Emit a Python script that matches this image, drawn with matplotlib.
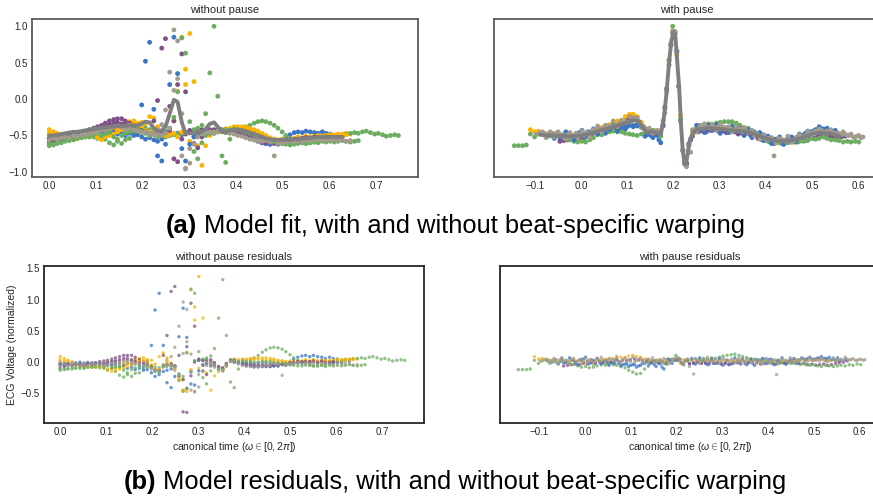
import numpy as np
import matplotlib
matplotlib.use("Agg")
import matplotlib.pyplot as plt

# ---------------- data: without pause (common canonical-time grid) ----------------
t_np = [0.000, 0.009, 0.017, 0.026, 0.034, 0.043, 0.052, 0.060, 0.069, 0.077,
        0.086, 0.095, 0.103, 0.112, 0.120, 0.129, 0.138, 0.146, 0.155, 0.163,
        0.172, 0.181, 0.189, 0.198, 0.206, 0.215, 0.224, 0.232, 0.241, 0.249,
        0.258, 0.267, 0.275, 0.284, 0.292, 0.301, 0.310, 0.318, 0.327, 0.335,
        0.344, 0.353, 0.361, 0.370, 0.378, 0.387, 0.396, 0.404, 0.413, 0.421,
        0.430, 0.439, 0.447, 0.456, 0.464, 0.473, 0.482, 0.490, 0.499, 0.507,
        0.516, 0.525, 0.533, 0.542, 0.550, 0.559, 0.568, 0.576, 0.585, 0.593,
        0.602, 0.611, 0.619, 0.628, 0.636, 0.645, 0.654, 0.662, 0.671, 0.679,
        0.688, 0.697, 0.705, 0.714, 0.722, 0.731, 0.740, 0.748]

fit_np = [-0.50, -0.50, -0.49, -0.48, -0.47, -0.46, -0.45, -0.45, -0.44, -0.43,
          -0.42, -0.41, -0.40, -0.40, -0.39, -0.38, -0.38, -0.37, -0.37, -0.37,
          -0.36, -0.36, -0.36, -0.34, -0.31, -0.32, -0.40, -0.44, -0.43, -0.38,
          -0.20, -0.01, -0.04, -0.32, -0.47, -0.47, -0.46, -0.46, -0.45, -0.41,
          -0.34, -0.32, -0.38, -0.45, -0.45, -0.43, -0.42, -0.42, -0.43, -0.44,
          -0.46, -0.48, -0.50, -0.52, -0.54, -0.55, -0.56, -0.56, -0.56, -0.56,
          -0.56, -0.55, -0.55, -0.54, -0.54, -0.53, -0.53, -0.52, -0.52, -0.52,
          -0.52, -0.52, -0.52, -0.52, -0.52, -0.52, -0.52, -0.52, -0.52, -0.52,
          -0.52, -0.52, -0.52, -0.52, -0.52, -0.52, -0.52, -0.52]
fit_np_end = 0.63

np_blue_a = [-0.53, -0.55, -0.52, -0.50, -0.49, -0.47, -0.48, -0.47, -0.46, -0.45,
             -0.44, -0.45, -0.43, -0.44, -0.42, -0.41, -0.43, -0.40, -0.41, -0.40,
             -0.42, -0.45, -0.35, -0.08, 0.52, 0.78, -0.14, -0.78, -0.85, -0.62,
             -0.50, -0.48, -0.47, -0.49, -0.46, -0.45, -0.44, -0.46, -0.44, -0.43,
             -0.44, -0.45, -0.43, -0.44, -0.42, -0.43, -0.41, -0.43, -0.45, -0.47,
             -0.48, -0.50, -0.52, -0.55, -0.57, -0.58, -0.60, -0.59, -0.57, -0.52,
             -0.49, -0.46, -0.45, -0.46, -0.44, -0.45, -0.46, -0.47, -0.45, -0.47,
             -0.48, -0.50, -0.49, -0.51]
np_blue_b = [-0.55, -0.53, -0.54, -0.52, -0.51, -0.50, -0.50, -0.48, -0.49, -0.47,
             -0.46, -0.47, -0.45, -0.46, -0.44, -0.47, -0.45, -0.48, -0.46, -0.50,
             -0.47, -0.50, -0.49, -0.52, -0.55, -0.53, -0.56, -0.58, -0.55, -0.45,
             0.20, 0.85, 0.35, -0.68, -0.85, -0.62, -0.52, -0.50, -0.48, -0.47,
             -0.46, -0.47, -0.45, -0.44, -0.46, -0.45, -0.47, -0.48, -0.50, -0.52,
             -0.54, -0.55, -0.57, -0.60, -0.61, -0.62, -0.60, -0.62, -0.61, -0.60,
             -0.58, -0.57, -0.56, -0.55, -0.54, -0.55, -0.53, -0.54, -0.52, -0.53,
             -0.52, -0.54]
np_yellow_a = [-0.42, -0.45, -0.47, -0.49, -0.52, -0.51, -0.53, -0.52, -0.53, -0.52,
               -0.50, -0.49, -0.52, -0.50, -0.48, -0.45, -0.42, -0.40, -0.36, -0.33,
               -0.31, -0.30, -0.33, -0.32, -0.35, -0.24, -0.26, -0.38, -0.45, -0.48,
               -0.46, -0.30, 0.11, 0.85, 0.41, -0.58, -0.52, -0.48, -0.46, -0.44,
               -0.43, -0.44, -0.42, -0.43, -0.41, -0.40, -0.38, -0.39, -0.40, -0.41,
               -0.42, -0.45, -0.48, -0.50, -0.52, -0.54, -0.55, -0.56, -0.55, -0.56,
               -0.55, -0.54, -0.52, -0.53, -0.51, -0.52, -0.51, -0.50, -0.51, -0.50,
               -0.49, -0.50, -0.48, -0.49, -0.47, -0.48]
np_yellow_b = [-0.47, -0.49, -0.48, -0.50, -0.52, -0.53, -0.51, -0.54, -0.52, -0.50,
               -0.51, -0.49, -0.53, -0.56, -0.52, -0.50, -0.48, -0.45, -0.42, -0.38,
               -0.36, -0.34, -0.38, -0.40, -0.43, -0.45, -0.47, -0.44, -0.48, -0.50,
               -0.49, -0.47, -0.52, -0.45, 0.20, 0.90, 0.24, -0.64, -0.91, -0.64,
               -0.50, -0.46, -0.45, -0.44, -0.42, -0.41, -0.39, -0.38, -0.38, -0.39,
               -0.40, -0.42, -0.44, -0.47, -0.50, -0.53, -0.55, -0.57, -0.58, -0.57,
               -0.56, -0.55, -0.54, -0.55, -0.53, -0.52, -0.53, -0.52, -0.51, -0.50,
               -0.50, -0.49, -0.50, -0.48, -0.49]
np_purple_a = [-0.60, -0.58, -0.55, -0.54, -0.52, -0.50, -0.50, -0.48, -0.47, -0.45,
               -0.42, -0.40, -0.38, -0.36, -0.33, -0.30, -0.28, -0.27, -0.27, -0.30,
               -0.33, -0.36, -0.38, -0.40, -0.44, -0.46, -0.30, -0.02, 0.70, 0.83,
               -0.10, -0.82, -0.86, -0.55, -0.48, -0.45, -0.44, -0.43, -0.42, -0.43,
               -0.42, -0.44, -0.45, -0.44, -0.46, -0.45, -0.47, -0.48, -0.50, -0.52,
               -0.54, -0.56, -0.58, -0.60, -0.61, -0.62, -0.60, -0.61, -0.59, -0.58,
               -0.57, -0.56, -0.55, -0.56, -0.54, -0.55, -0.53, -0.54, -0.52, -0.53,
               -0.52]
np_purple_b = [-0.55, -0.56, -0.53, -0.54, -0.52, -0.53, -0.51, -0.50, -0.49, -0.47,
               -0.46, -0.44, -0.42, -0.40, -0.38, -0.35, -0.33, -0.32, -0.34, -0.36,
               -0.38, -0.40, -0.41, -0.43, -0.45, -0.47, -0.48, -0.50, -0.47, -0.45,
               -0.43, -0.30, 0.20, 0.62, 0.10, -0.43, -0.61, -0.67, -0.52, -0.46,
               -0.43, -0.42, -0.41, -0.42, -0.43, -0.44, -0.45, -0.46, -0.48, -0.50,
               -0.52, -0.55, -0.57, -0.58, -0.60, -0.59, -0.61, -0.60, -0.58, -0.57,
               -0.56, -0.55, -0.55, -0.54, -0.53, -0.54, -0.52, -0.53, -0.54, -0.52]
np_green_a = [-0.62, -0.62, -0.60, -0.58, -0.57, -0.55, -0.56, -0.54, -0.53, -0.52,
              -0.50, -0.52, -0.54, -0.51, -0.55, -0.60, -0.63, -0.58, -0.61, -0.56,
              -0.54, -0.48, -0.45, -0.42, -0.40, -0.42, -0.46, -0.48, -0.50, -0.52,
              -0.50, -0.49, -0.48, -0.47, -0.46, -0.44, -0.42, -0.40, -0.36, -0.20,
              0.36, 1.00, 0.04, -0.78, -0.87, -0.55, -0.45, -0.42, -0.40, -0.38,
              -0.36, -0.33, -0.31, -0.30, -0.31, -0.33, -0.36, -0.40, -0.45, -0.50,
              -0.54, -0.56, -0.58, -0.60, -0.61, -0.60, -0.59, -0.58, -0.56, -0.55,
              -0.53, -0.52, -0.50, -0.49, -0.48, -0.47, -0.46, -0.47, -0.45, -0.44,
              -0.46, -0.48, -0.47, -0.49, -0.51, -0.50, -0.49, -0.50]
np_green_b = [-0.64, -0.63, -0.61, -0.60, -0.58, -0.57, -0.55, -0.54, -0.53, -0.50,
              -0.52, -0.49, -0.47, -0.50, -0.48, -0.46, -0.52, -0.55, -0.50, -0.47,
              -0.45, -0.43, -0.41, -0.44, -0.47, -0.50, -0.48, -0.52, -0.50, -0.46,
              -0.40, -0.25, 0.10, 0.84, 0.63, -0.31, -0.72, -0.82, -0.60, -0.50,
              -0.47, -0.45, -0.44, -0.43, -0.42, -0.43, -0.41, -0.42, -0.43, -0.45,
              -0.47, -0.48, -0.50, -0.52, -0.55, -0.57, -0.59, -0.60, -0.61, -0.62,
              -0.63, -0.62, -0.61, -0.60, -0.61, -0.60, -0.59, -0.60, -0.58, -0.59,
              -0.58, -0.59, -0.58, -0.57, -0.58, -0.59, -0.58, -0.57]
np_grey_a = [-0.50, -0.52, -0.51, -0.49, -0.50, -0.48, -0.47, -0.46, -0.47, -0.45,
             -0.44, -0.42, -0.41, -0.40, -0.38, -0.37, -0.36, -0.35, -0.36, -0.37,
             -0.38, -0.40, -0.42, -0.44, -0.46, -0.48, -0.45, -0.42, -0.35, -0.15,
             0.37, 0.95, 0.28, -0.78, -0.96, -0.68, -0.50, -0.47, -0.46, -0.45,
             -0.44, -0.43, -0.42, -0.43, -0.44, -0.45, -0.44, -0.46, -0.47, -0.49,
             -0.51, -0.53, -0.55, -0.57, -0.58, -0.60, -0.59, -0.60, -0.58, -0.57,
             -0.58, -0.57, -0.56, -0.57, -0.55, -0.56, -0.55, -0.54, -0.55, -0.54,
             -0.53, -0.54, -0.53, -0.52]
np_grey_b = [-0.56, -0.54, -0.55, -0.53, -0.52, -0.53, -0.50, -0.51, -0.49, -0.48,
             -0.47, -0.46, -0.45, -0.43, -0.42, -0.40, -0.38, -0.37, -0.39, -0.41,
             -0.40, -0.42, -0.44, -0.46, -0.45, -0.47, -0.49, -0.48, -0.50, -0.47,
             -0.40, 0.12, 0.80, -0.20, -0.95, -0.88, -0.62, -0.52, -0.48, -0.46,
             -0.45, -0.46, -0.44, -0.45, -0.46, -0.47, -0.48, -0.50, -0.51, -0.53,
             -0.55, -0.56, -0.57, -0.58, -0.57, -0.59, -0.78, -0.61, -0.60, -0.59,
             -0.58, -0.59, -0.57, -0.58, -0.56, -0.57, -0.56, -0.55, -0.56, -0.57,
             -0.56, -0.55, -0.57, -0.56, -0.58, -0.57]

# ---------------- data: with pause (warped beats on two sample grids) ----------------
wp_grid_a = [-0.150, -0.141, -0.133, -0.124, -0.115, -0.107, -0.098, -0.090, -0.081, -0.073,
             -0.064, -0.055, -0.047, -0.038, -0.030, -0.021, -0.012, -0.004, 0.005, 0.013,
             0.022, 0.031, 0.039, 0.048, 0.056, 0.065, 0.074, 0.082, 0.091, 0.099,
             0.108, 0.117, 0.125, 0.134, 0.142, 0.151, 0.160, 0.168, 0.177, 0.185,
             0.194, 0.203, 0.211, 0.220, 0.228, 0.237, 0.246, 0.254, 0.263, 0.271,
             0.280, 0.289, 0.297, 0.306, 0.314, 0.323, 0.332, 0.340, 0.349, 0.357,
             0.366, 0.375, 0.383, 0.392, 0.400, 0.409, 0.418, 0.426, 0.435, 0.443,
             0.452, 0.461, 0.469, 0.478, 0.486, 0.495, 0.504, 0.512, 0.521, 0.529,
             0.538, 0.547, 0.555, 0.564, 0.572, 0.581, 0.590, 0.598, 0.607]
wp_grid_b = [-0.146, -0.137, -0.128, -0.120, -0.111, -0.102, -0.094, -0.085, -0.077, -0.068,
             -0.059, -0.051, -0.042, -0.034, -0.025, -0.016, -0.008, 0.001, 0.009, 0.018,
             0.026, 0.035, 0.044, 0.052, 0.061, 0.069, 0.078, 0.087, 0.095, 0.104,
             0.112, 0.121, 0.130, 0.138, 0.147, 0.155, 0.164, 0.172, 0.181, 0.190,
             0.198, 0.207, 0.215, 0.224, 0.233, 0.241, 0.250, 0.258, 0.267, 0.276,
             0.284, 0.293, 0.301, 0.310, 0.319, 0.327, 0.336, 0.344, 0.353, 0.362,
             0.370, 0.379, 0.387, 0.396, 0.405, 0.413, 0.422, 0.430, 0.439, 0.448,
             0.456, 0.465, 0.473, 0.482, 0.491, 0.499, 0.508, 0.516, 0.525, 0.533,
             0.542, 0.551, 0.559, 0.568, 0.577, 0.585, 0.594, 0.602, 0.611]

fit_wp_x = [-0.09, -0.06, -0.03, 0.0, 0.02, 0.04, 0.06, 0.08, 0.10,
            0.112, 0.122, 0.132, 0.142, 0.152, 0.162, 0.172,
            0.178, 0.184, 0.19, 0.195, 0.2, 0.204, 0.208, 0.212, 0.216, 0.22, 0.224, 0.228, 0.232, 0.236,
            0.242, 0.25, 0.26, 0.28, 0.30, 0.33, 0.36, 0.38, 0.40, 0.42, 0.44, 0.46, 0.48, 0.50, 0.52, 0.54, 0.56]
fit_wp_y = [-0.49, -0.50, -0.51, -0.50, -0.47, -0.43, -0.40, -0.36, -0.32,
            -0.29, -0.30, -0.38, -0.46, -0.45, -0.46, -0.48,
            -0.30, 0.05, 0.50, 0.80, 0.92, 0.85, 0.50, 0.15, -0.35, -0.72, -0.90, -0.85, -0.68, -0.55,
            -0.46, -0.42, -0.41, -0.40, -0.41, -0.43, -0.45, -0.49, -0.54, -0.57, -0.58, -0.56, -0.53, -0.48, -0.46, -0.47, -0.51]

wp_blue_start = 8
wp_blue_y = [-0.47, -0.51, -0.47, -0.50, -0.53, -0.50, -0.48, -0.52, -0.48, -0.46,
             -0.48, -0.45, -0.48, -0.43, -0.43, -0.45, -0.43, -0.43, -0.40, -0.41,
             -0.38, -0.38, -0.35, -0.36, -0.36, -0.38, -0.49, -0.50, -0.48, -0.56,
             -0.37, 0.15, 0.74, 0.92, 0.17, -0.70, -0.89, -0.56, -0.43, -0.44,
             -0.44, -0.42, -0.40, -0.42, -0.43, -0.43, -0.45, -0.43, -0.41, -0.43,
             -0.44, -0.47, -0.45, -0.45, -0.48, -0.49, -0.51, -0.54, -0.56, -0.58,
             -0.60, -0.58, -0.56, -0.54, -0.52, -0.50, -0.47, -0.47, -0.44, -0.42,
             -0.41, -0.42, -0.44, -0.46, -0.49]
wp_blue_r = [0.02, -0.01, 0.03, 0.00, -0.02, 0.01, 0.03, -0.01, 0.02, 0.04,
             0.01, 0.03, -0.02, 0.02, 0.00, -0.03, -0.02, -0.04, -0.03, -0.05,
             -0.04, -0.06, -0.05, -0.07, -0.03, 0.02, -0.03, -0.05, -0.02, -0.09,
             -0.04, 0.03, 0.02, 0.05, -0.03, 0.02, -0.04, -0.03, 0.01, -0.02,
             -0.03, -0.01, 0.00, -0.02, -0.03, -0.02, -0.04, -0.01, 0.02, 0.01,
             0.00, -0.02, 0.01, 0.03, 0.02, 0.04, 0.03, 0.02, 0.01, -0.01,
             -0.02, 0.00, 0.01, 0.02, 0.03, 0.04, 0.05, 0.03, 0.04, 0.05,
             0.05, 0.04, 0.03, 0.02, 0.01]

wp_blue2_start = 10
wp_blue2_y = [-0.54, -0.46, -0.53, -0.45, -0.50, -0.56, -0.47, -0.43, -0.52, -0.45,
              -0.41, -0.48, -0.42, -0.47, -0.42, -0.35, -0.44, -0.39, -0.41, -0.36,
              -0.38, -0.37, -0.39, -0.51, -0.48, -0.53, -0.50, -0.60, -0.11, 0.47,
              0.90, 0.66, -0.30, -0.87, -0.61, -0.51, -0.36, -0.39, -0.46, -0.36,
              -0.43, -0.35, -0.47, -0.39, -0.46, -0.37, -0.45, -0.40, -0.50, -0.42,
              -0.53, -0.47, -0.46, -0.57, -0.51, -0.61, -0.55, -0.52, -0.62, -0.54,
              -0.52, -0.58, -0.48, -0.50, -0.44, -0.45, -0.42, -0.38, -0.41, -0.40,
              -0.44, -0.43, -0.49, -0.49]
wp_blue2_r = [-0.04, 0.05, -0.02, 0.06, 0.01, -0.05, 0.03, 0.07, -0.03, 0.02,
              0.05, -0.04, 0.01, -0.06, -0.02, 0.03, -0.07, -0.04, -0.08, -0.05,
              -0.09, -0.06, -0.03, -0.07, -0.02, -0.08, -0.04, -0.12, 0.04, -0.03,
              0.02, 0.04, -0.05, 0.03, 0.05, -0.04, 0.06, 0.02, -0.05, 0.04,
              -0.03, 0.05, -0.06, 0.02, -0.04, 0.06, -0.02, 0.04, -0.05, 0.03,
              -0.06, 0.02, 0.05, -0.03, 0.04, -0.05, 0.02, 0.06, -0.04, 0.03,
              0.05, -0.02, 0.06, 0.03, 0.07, 0.04, 0.06, 0.08, 0.05, 0.07,
              0.04, 0.06, 0.02, 0.03]

wp_yellow_start = 4
wp_yellow_y = [-0.42, -0.45, -0.44, -0.46, -0.48, -0.46, -0.49, -0.48, -0.49, -0.51,
               -0.48, -0.50, -0.48, -0.51, -0.47, -0.47, -0.43, -0.42, -0.39, -0.38,
               -0.35, -0.32, -0.30, -0.29, -0.24, -0.21, -0.21, -0.24, -0.32, -0.41,
               -0.45, -0.43, -0.43, -0.48, -0.11, 0.52, 0.93, 0.60, -0.22, -0.89,
               -0.64, -0.48, -0.40, -0.41, -0.40, -0.38, -0.37, -0.39, -0.39, -0.41,
               -0.43, -0.41, -0.40, -0.43, -0.41, -0.43, -0.44, -0.48, -0.49, -0.54,
               -0.54, -0.57, -0.55, -0.58, -0.57, -0.55, -0.54, -0.54, -0.50, -0.51,
               -0.48, -0.47, -0.44, -0.43, -0.44, -0.46, -0.45]
wp_yellow_r = [0.08, 0.04, 0.05, 0.03, 0.02, 0.04, 0.01, 0.03, 0.02, 0.00,
               0.03, 0.01, 0.02, -0.01, 0.02, 0.00, 0.03, 0.02, 0.04, 0.03,
               0.05, 0.06, 0.07, 0.06, 0.09, 0.10, 0.08, 0.07, 0.04, 0.03,
               0.01, 0.02, 0.03, 0.00, 0.04, 0.02, 0.05, -0.02, 0.03, 0.01,
               0.02, -0.01, 0.02, 0.00, 0.01, 0.02, 0.03, 0.01, 0.02, 0.00,
               -0.01, 0.02, 0.03, 0.01, 0.04, 0.02, 0.03, 0.01, 0.02, 0.00,
               0.01, -0.01, 0.02, 0.00, 0.01, 0.02, 0.03, 0.02, 0.04, 0.02,
               0.03, 0.02, 0.04, 0.03, 0.02, 0.01, 0.03]

wp_purple_start = 12
wp_purple_y = [-0.58, -0.57, -0.56, -0.55, -0.55, -0.53, -0.53, -0.50, -0.49, -0.46,
               -0.45, -0.42, -0.42, -0.38, -0.37, -0.34, -0.33, -0.29, -0.26, -0.26,
               -0.31, -0.40, -0.47, -0.44, -0.48, -0.47, -0.35, 0.13, 0.75, 0.89,
               0.18, -0.71, -0.88, -0.55, -0.45, -0.45, -0.43, -0.45, -0.43, -0.42,
               -0.44, -0.44, -0.46, -0.45, -0.45, -0.48, -0.47, -0.46, -0.49, -0.50,
               -0.54, -0.56, -0.56, -0.59, -0.61, -0.59, -0.61, -0.59, -0.59, -0.59,
               -0.59, -0.57, -0.57, -0.54, -0.54, -0.52, -0.50, -0.52, -0.52, -0.51,
               -0.52, -0.52, -0.51]
wp_purple_r = [-0.07, -0.06, -0.05, -0.04, -0.05, -0.03, -0.04, -0.02, -0.03, -0.01,
               -0.02, 0.00, -0.01, 0.01, 0.00, 0.02, 0.01, 0.03, 0.04, 0.03,
               0.02, 0.00, -0.01, 0.01, -0.02, 0.00, -0.02, 0.01, 0.03, 0.02,
               -0.02, 0.01, -0.03, -0.02, -0.01, -0.03, -0.02, -0.04, -0.03, -0.02,
               -0.04, -0.03, -0.05, -0.03, -0.02, -0.04, -0.03, -0.01, -0.03, -0.02,
               -0.04, -0.03, -0.02, -0.03, -0.04, -0.02, -0.03, -0.01, -0.02, -0.03,
               -0.04, -0.03, -0.05, -0.04, -0.06, -0.05, -0.04, -0.06, -0.05, -0.03,
               -0.02, -0.01, 0.01]

wp_green_start = 0
wp_green_y = [-0.64, -0.64, -0.64, -0.63, -0.48, -0.52, -0.48, -0.47, -0.51, -0.50,
              -0.52, -0.50, -0.52, -0.54, -0.56, -0.58, -0.59, -0.58, -0.59, -0.56,
              -0.53, -0.49, -0.49, -0.45, -0.45, -0.44, -0.45, -0.45, -0.47, -0.48,
              -0.49, -0.50, -0.48, -0.46, -0.45, -0.43, -0.46, -0.51, -0.13, 0.54,
              1.00, 0.65, -0.27, -0.89, -0.63, -0.43, -0.39, -0.36, -0.37, -0.34,
              -0.35, -0.33, -0.32, -0.31, -0.31, -0.31, -0.33, -0.36, -0.39, -0.40,
              -0.44, -0.47, -0.51, -0.55, -0.58, -0.60, -0.60, -0.60, -0.62, -0.60,
              -0.59, -0.59, -0.58, -0.58, -0.57, -0.54, -0.55, -0.54, -0.52, -0.54,
              -0.56, -0.56, -0.57, -0.59, -0.58, -0.59, -0.58, -0.59]
wp_green_r = [-0.13, -0.13, -0.13, -0.12, 0.02, -0.03, 0.01, 0.02, -0.01, 0.00,
              -0.02, 0.01, -0.01, -0.03, -0.05, -0.07, -0.09, -0.08, -0.10, -0.09,
              -0.07, -0.05, -0.06, -0.04, -0.05, -0.06, -0.08, -0.10, -0.14, -0.17,
              -0.20, -0.19, -0.12, -0.02, 0.01, 0.02, 0.00, -0.03, 0.02, 0.04,
              0.10, 0.03, -0.02, 0.01, 0.03, 0.04, 0.03, 0.05, 0.04, 0.06,
              0.05, 0.07, 0.09, 0.10, 0.11, 0.12, 0.10, 0.08, 0.06, 0.05,
              0.03, 0.02, 0.00, -0.01, -0.03, -0.04, -0.03, -0.02, -0.04, -0.03,
              -0.02, -0.03, -0.04, -0.05, -0.06, -0.05, -0.07, -0.08, -0.06, -0.07,
              -0.08, -0.07, -0.06, -0.07, -0.05, -0.06, -0.04, -0.05]

wp_grey_start = 6
wp_grey_y = [-0.48, -0.46, -0.49, -0.48, -0.51, -0.47, -0.50, -0.53, -0.49, -0.51,
             -0.47, -0.49, -0.50, -0.46, -0.46, -0.44, -0.40, -0.40, -0.37, -0.37,
             -0.36, -0.33, -0.32, -0.32, -0.31, -0.27, -0.32, -0.37, -0.44, -0.46,
             -0.44, -0.46, -0.30, 0.10, 0.76, 0.93, 0.17, -0.70, -0.93, -0.73,
             -0.42, -0.41, -0.38, -0.39, -0.40, -0.39, -0.38, -0.38, -0.40, -0.40,
             -0.43, -0.43, -0.45, -0.43, -0.46, -0.50, -0.49, -0.53, -0.55, -0.54,
             -0.78, -0.56, -0.56, -0.58, -0.56, -0.57, -0.53, -0.54, -0.51, -0.47,
             -0.46, -0.46, -0.43, -0.46, -0.45, -0.47, -0.47, -0.49, -0.48, -0.50,
             -0.52, -0.51, -0.53]
wp_grey_r = [0.01, 0.03, 0.00, 0.02, -0.01, 0.03, 0.01, -0.02, 0.02, 0.00,
             0.03, 0.01, -0.01, 0.02, 0.00, 0.01, 0.03, 0.02, 0.04, 0.02,
             0.01, 0.03, 0.02, 0.00, -0.01, 0.02, 0.01, 0.03, 0.02, -0.01,
             0.02, 0.01, 0.03, -0.02, 0.04, 0.06, -0.03, 0.02, -0.08, -0.20,
             0.02, 0.01, 0.03, 0.02, 0.00, 0.01, 0.02, 0.03, 0.01, 0.02,
             0.00, 0.01, -0.01, 0.02, 0.00, -0.02, 0.01, 0.00, -0.01, 0.02,
             -0.21, 0.01, 0.02, 0.00, 0.01, -0.01, 0.02, 0.00, 0.01, 0.03,
             0.02, 0.01, 0.03, 0.00, 0.02, 0.01, 0.03, 0.02, 0.04, 0.03,
             0.02, 0.03, 0.02]

wp_grey2_start = 7
wp_grey2_y = [-0.45, -0.53, -0.45, -0.52, -0.45, -0.49, -0.55, -0.46, -0.50, -0.53,
              -0.44, -0.47, -0.52, -0.42, -0.37, -0.45, -0.36, -0.37, -0.30, -0.38,
              -0.29, -0.30, -0.24, -0.27, -0.26, -0.39, -0.40, -0.40, -0.47, -0.43,
              -0.43, -0.19, 0.53, 0.94, 0.64, -0.30, -0.86, -0.63, -0.42, -0.45,
              -0.37, -0.34, -0.39, -0.35, -0.43, -0.35, -0.39, -0.38, -0.45, -0.38,
              -0.41, -0.39, -0.46, -0.43, -0.47, -0.55, -0.49, -0.54, -0.53, -0.60,
              -0.54, -0.56, -0.51, -0.59, -0.53, -0.49, -0.52, -0.45, -0.47, -0.44,
              -0.41, -0.45, -0.44, -0.42, -0.47, -0.47, -0.45, -0.50, -0.48, -0.52,
              -0.50, -0.52]
wp_grey2_r = [0.04, -0.03, 0.05, -0.02, 0.06, 0.02, -0.04, 0.05, 0.01, -0.03,
              0.06, 0.02, -0.05, 0.04, 0.07, -0.02, 0.05, 0.03, 0.08, -0.01,
              0.06, 0.03, 0.07, 0.02, 0.05, -0.03, 0.04, 0.06, -0.02, 0.03,
              0.05, -0.04, 0.03, 0.06, 0.02, -0.05, 0.04, 0.03, 0.05, -0.03,
              0.04, 0.07, 0.01, 0.05, -0.03, 0.06, 0.02, 0.04, -0.02, 0.05,
              0.03, 0.06, -0.01, 0.04, 0.02, -0.04, 0.05, 0.01, 0.03, -0.03,
              0.04, 0.02, 0.06, -0.02, 0.03, 0.05, 0.01, 0.06, 0.02, 0.04,
              0.05, 0.01, 0.03, 0.06, 0.02, 0.04, 0.07, 0.03, 0.05, 0.02,
              0.04, 0.03]

titles = ["without pause", "with pause", "without pause residuals", "with pause residuals"]
xticks_np = [0.0, 0.1, 0.2, 0.3, 0.4, 0.5, 0.6, 0.7]
xticks_wp = [-0.1, 0.0, 0.1, 0.2, 0.3, 0.4, 0.5, 0.6]
yticks_fit = [-1.0, -0.5, 0.0, 0.5, 1.0]
yticks_res = [-0.5, 0.0, 0.5, 1.0, 1.5]
ylabel = "ECG Voltage (normalized)"
xlabel = r"canonical time ($\omega \in [0, 2\pi]$)"
caption_a = ("(a)", "Model fit, with and without beat-specific warping")
caption_b = ("(b)", "Model residuals, with and without beat-specific warping")

# ---------------- style ----------------
C_BLUE, C_YELLOW, C_PURPLE = "#3A76C4", "#FFB300", "#7E5087"
C_GREEN, C_GREY = "#6CAE60", "#A39B8C"
C_FIT = "#7F7F7F"
TXT = "#262626"

plt.rcParams['font.family'] = ['Liberation Sans', 'DejaVu Sans']
plt.rcParams['mathtext.fontset'] = 'custom'
plt.rcParams['mathtext.rm'] = 'Liberation Sans'
plt.rcParams['mathtext.it'] = 'Liberation Sans:italic'

fig = plt.figure(figsize=(8.73, 5.04), dpi=100)
W, H = 873.0, 504.0

def px_axes(left, top, right, bottom):
    return fig.add_axes([left / W, 1 - bottom / H, (right - left) / W, (bottom - top) / H])

ax_tl = px_axes(32, 19, 418, 177)
ax_tr = px_axes(494, 19, 880, 177)
ax_bl = px_axes(44, 266, 424, 423)
ax_br = px_axes(500, 266, 880, 423)

S_TOP, S_BOT = 12, 6
FIT_LW = 2.8

t = np.array(t_np)
f = np.array(fit_np)
np_beats = [(C_BLUE, np_blue_a), (C_YELLOW, np_yellow_a), (C_PURPLE, np_purple_a),
            (C_GREEN, np_green_a), (C_GREY, np_grey_a),
            (C_BLUE, np_blue_b), (C_YELLOW, np_yellow_b), (C_PURPLE, np_purple_b),
            (C_GREEN, np_green_b), (C_GREY, np_grey_b)]
for c, yv in np_beats:
    yv = np.array(yv)
    n = len(yv)
    ax_tl.scatter(t[:n], yv, s=S_TOP, color=c, edgecolors='none', zorder=2)
    ax_bl.scatter(t[:n], yv - f[:n], s=S_BOT, color=c, alpha=0.75, edgecolors='none', zorder=2)
m = t <= fit_np_end
ax_tl.plot(t[m], f[m], color=C_FIT, lw=FIT_LW, zorder=3, solid_capstyle='round', solid_joinstyle='round')

ga = np.array(wp_grid_a)
gb = np.array(wp_grid_b)
wp_beats = [(C_BLUE, ga, wp_blue_start, wp_blue_y, wp_blue_r),
            (C_YELLOW, gb, wp_yellow_start, wp_yellow_y, wp_yellow_r),
            (C_PURPLE, ga, wp_purple_start, wp_purple_y, wp_purple_r),
            (C_GREEN, gb, wp_green_start, wp_green_y, wp_green_r),
            (C_BLUE, gb, wp_blue2_start, wp_blue2_y, wp_blue2_r),
            (C_GREY, ga, wp_grey_start, wp_grey_y, wp_grey_r),
            (C_GREY, gb, wp_grey2_start, wp_grey2_y, wp_grey2_r)]
for c, g, s0, yv, rv in wp_beats:
    xs = g[s0:s0 + len(yv)]
    ax_tr.scatter(xs, yv, s=S_TOP, color=c, edgecolors='none', zorder=2)
    ax_br.scatter(xs, rv, s=S_BOT, color=c, alpha=0.75, edgecolors='none', zorder=2)
ax_tr.plot(fit_wp_x, fit_wp_y, color=C_FIT, lw=FIT_LW, zorder=3, solid_capstyle='round', solid_joinstyle='round')

for ax, title, spc in [(ax_tl, titles[0], "#5A5A5A"), (ax_tr, titles[1], "#5A5A5A"),
                       (ax_bl, titles[2], "#262626"), (ax_br, titles[3], "#262626")]:
    ax.set_facecolor("white")
    for sp in ax.spines.values():
        sp.set_color(spc)
        sp.set_linewidth(1.3)
    ax.tick_params(length=0, labelsize=7, colors=TXT, pad=3)
    ax.set_title(title, fontsize=8, color=TXT, pad=4)

ax_tl.set_xlim(-0.037, 0.79); ax_tl.set_ylim(-1.07, 1.10)
ax_tr.set_xlim(-0.19, 0.648); ax_tr.set_ylim(-1.07, 1.10)
ax_bl.set_xlim(-0.035, 0.79); ax_bl.set_ylim(-0.99, 1.54)
ax_br.set_xlim(-0.186, 0.644); ax_br.set_ylim(-0.99, 1.54)

ax_tl.set_xticks(xticks_np); ax_bl.set_xticks(xticks_np)
ax_tr.set_xticks(xticks_wp); ax_br.set_xticks(xticks_wp)
ax_tl.set_yticks(yticks_fit); ax_bl.set_yticks(yticks_res)
ax_tr.set_yticks(yticks_fit); ax_br.set_yticks(yticks_res)
ax_tr.tick_params(labelleft=False)
ax_br.tick_params(labelleft=False)

ax_bl.set_ylabel(ylabel, fontsize=7.5, color=TXT, labelpad=3)
ax_bl.set_xlabel(xlabel, fontsize=7.5, color=TXT, labelpad=2)
ax_br.set_xlabel(xlabel, fontsize=7.5, color=TXT, labelpad=2)

CAP_FS = 18.4
renderer = fig.canvas.get_renderer()
def caption(cy_px, cx_px, parts):
    y = 1 - cy_px / H
    t1 = fig.text(0, y, parts[0], fontsize=CAP_FS, fontweight='bold', va='center', color='black')
    t2 = fig.text(0, y, parts[1], fontsize=CAP_FS, va='center', color='black')
    w1 = t1.get_window_extent(renderer).width
    w2 = t2.get_window_extent(renderer).width
    gap = 7
    x0 = cx_px - (w1 + gap + w2) / 2
    t1.set_x(x0 / W)
    t2.set_x((x0 + w1 + gap) / W)

caption(226, 455, caption_a)
caption(482, 455, caption_b)

fig.savefig("out.png", dpi=100, facecolor="white")
